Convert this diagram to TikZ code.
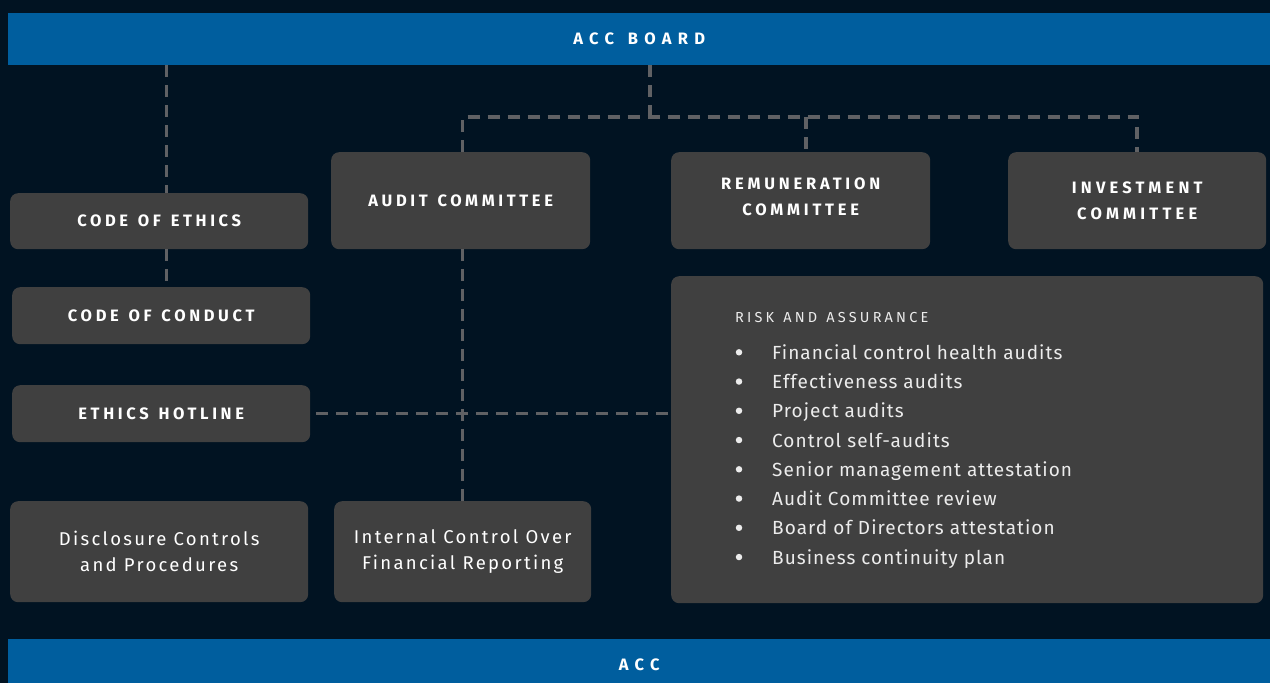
\documentclass[tikz,border=0pt]{standalone}
\usepackage{fontspec}
\setmainfont{Fira Sans}
\newfontfamily\bandfam[LetterSpace=38,WordSpace=1.35]{Fira Sans}
\newfontfamily\capsfam[LetterSpace=22,WordSpace=1.55]{Fira Sans}
\newfontfamily\remunfam[LetterSpace=23]{Fira Sans}
\newfontfamily\investfam[LetterSpace=25.5]{Fira Sans}
\newfontfamily\boxtextfam[LetterSpace=12.5]{Fira Sans}
\newfontfamily\listfam[LetterSpace=5.5]{Fira Sans}
\newfontfamily\titlefam[LetterSpace=22,WordSpace=1.3]{Fira Sans}
\definecolor{navy}{RGB}{1,19,34}
\definecolor{barblue}{RGB}{0,94,158}
\definecolor{boxgray}{RGB}{64,64,64}
\definecolor{linegray}{RGB}{96,97,100}
\definecolor{softwhite}{RGB}{236,236,236}
\newcommand\bandfont{\bandfam\bfseries\fontsize{16.5}{26}\selectfont}
\newcommand\hdrfont{\capsfam\bfseries\fontsize{16.5}{26}\selectfont}
\newcommand\remunfont{\remunfam\bfseries\fontsize{16.5}{26}\selectfont}
\newcommand\investfont{\investfam\bfseries\fontsize{16.5}{26}\selectfont}
\newcommand\plainfont{\boxtextfam\fontsize{18.5}{26}\selectfont}
\newcommand\listfont{\listfam\fontsize{19}{29}\selectfont}
\newcommand\titlefont{\titlefam\fontsize{14.5}{18}\selectfont}
\tikzset{
  bar/.style={fill=barblue, inner sep=0pt, anchor=north west, text=white, font=\bandfont},
  box/.style={fill=boxgray, rounded corners=8pt, inner sep=0pt, anchor=north west,
              text=white, align=center},
  conn/.style={draw=linegray, line width=3.5pt, dash pattern=on 12pt off 8pt},
  listitem/.style={anchor=base west, inner sep=0pt, text=softwhite, font=\listfont},
  bulletdot/.style={circle, fill=softwhite, inner sep=0pt, minimum size=6.5pt},
}
\begin{document}
\begin{tikzpicture}[x=1pt, y=-1pt]
  % canvas
  \fill[navy] (0,0) rectangle (1270,683);
  \useasboundingbox (0,0) rectangle (1270,683);

  % blue bands
  \node[bar, minimum width=1262pt, minimum height=52pt] (board) at (8,13) {ACC BOARD};
  \node[bar, minimum width=1262pt, minimum height=52pt] (acc) at (8,639) {ACC};

  % committee boxes
  \node[box, font=\hdrfont, minimum width=259pt, minimum height=97pt] (audit) at (331,152) {AUDIT COMMITTEE};
  \node[box, font=\remunfont, text depth=8pt, minimum width=259pt, minimum height=97pt] (remun) at (671,152) {REMUNERATION\\COMMITTEE};
  \node[box, font=\investfont, minimum width=258pt, minimum height=97pt] (invest) at (1008,152) {INVESTMENT\\COMMITTEE};

  % ethics column
  \node[box, font=\hdrfont, minimum width=298pt, minimum height=56pt] (ethics) at (10,193) {CODE OF ETHICS};
  \node[box, font=\hdrfont, minimum width=298pt, minimum height=57pt] (conduct) at (12,287) {CODE OF CONDUCT};
  \node[box, font=\hdrfont, minimum width=298pt, minimum height=57pt] (hotline) at (12,385) {ETHICS HOTLINE};

  % controls
  \node[box, font=\plainfont, minimum width=298pt, minimum height=101pt] (disclosure) at (10,501) {Disclosure Controls\\and Procedures};
  \node[box, font=\plainfont, minimum width=257pt, minimum height=101pt] (icfr) at (334,501) {Internal Control Over\\Financial Reporting};

  % risk and assurance panel
  \node[box, minimum width=592pt, minimum height=327pt] (risk) at (671,276) {};
  \node[anchor=base west, inner sep=0pt, text=softwhite, font=\titlefont] (risktitle) at (735,322.3) {RISK AND ASSURANCE};
  \foreach \i/\txt in {0/Financial control health audits,
                       1/Effectiveness audits,
                       2/Project audits,
                       3/Control self-audits,
                       4/Senior management attestation,
                       5/Audit Committee review,
                       6/Board of Directors attestation,
                       7/Business continuity plan}{
    \node[bulletdot] (bullet\i) at (739,352.3+29.25*\i) {};
    \node[listitem] (item\i) at (772,359.3+29.25*\i) {\txt};
  }

  % connectors
  \coordinate (lx) at (166.5,0);
  \coordinate (junction) at (650,117);
  \coordinate (rx) at (806,0);
  \coordinate (ax) at (462.5,0);
  \draw[conn] (lx |- board.south) -- (lx |- ethics.north);
  \draw[conn] (lx |- ethics.south) -- (lx |- conduct.north);
  \draw[conn] (board.south -| junction) -- (junction);
  \draw[conn] (ax |- audit.north) -- (ax |- junction) -- (invest.north |- junction) -- (invest.north);
  \draw[conn] (rx |- junction) -- (rx |- remun.north);
  \draw[conn] (icfr.north |- audit.south) -- (icfr.north);
  \draw[conn, shorten <=6pt] (hotline.east) -- (hotline.east -| risk.west);
\end{tikzpicture}
\end{document}
